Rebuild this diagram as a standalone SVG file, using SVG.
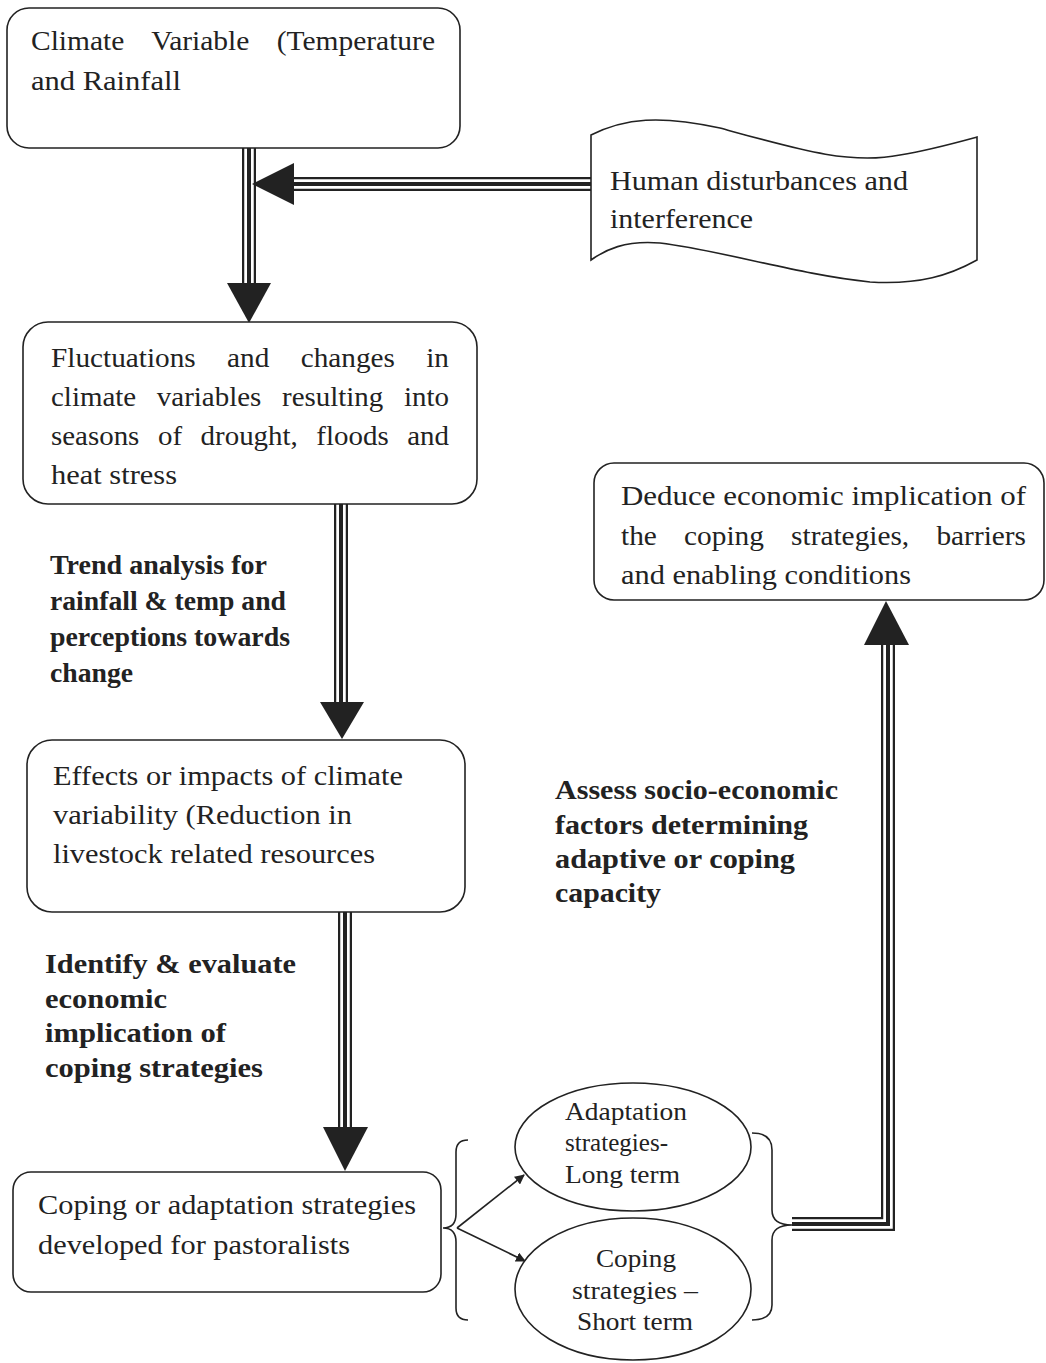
<svg xmlns="http://www.w3.org/2000/svg" xmlns:xlink="http://www.w3.org/1999/xlink" width="1046" height="1363" viewBox="0 0 1046 1363">
<style>
.box{fill:#fff;stroke:#222;stroke-width:1.6}
.t{font-family:"Liberation Serif","Times New Roman",serif;font-size:28px;fill:#222}
.e{font-family:"Liberation Serif","Times New Roman",serif;font-size:26px;fill:#222}
.b{font-family:"Liberation Serif","Times New Roman",serif;font-size:26.5px;font-weight:bold;fill:#222}
.o{fill:none;stroke:#222;stroke-width:14;stroke-linejoin:miter}
.g{fill:none;stroke:#fff;stroke-width:9.5;stroke-linejoin:miter}
.c{fill:none;stroke:#222;stroke-width:4;stroke-linejoin:miter}
.head{fill:#222}
.thin{fill:none;stroke:#222;stroke-width:1.6}
</style>
<defs>
<marker id="sm" viewBox="0 0 10 10" refX="9" refY="5" markerWidth="10" markerHeight="10" markerUnits="userSpaceOnUse" orient="auto"><path d="M0,0 L10,5 L0,10 z" fill="#222"/></marker>
<path id="p1" d="M249,148 V286"/>
<path id="p2" d="M591,184 H290"/>
<path id="p3" d="M341,504 V706"/>
<path id="p4" d="M345,912 V1130"/>
<path id="p5" d="M792,1224 H888 V642"/>
</defs>

<g id="connectors">
<use xlink:href="#p1" class="o"/><use xlink:href="#p1" class="g"/><use xlink:href="#p1" class="c"/>
<polygon class="head" points="227,283 271,283 249,323"/>
<use xlink:href="#p2" class="o"/><use xlink:href="#p2" class="g"/><use xlink:href="#p2" class="c"/>
<polygon class="head" points="294,163 294,205 252,184"/>
<use xlink:href="#p3" class="o"/><use xlink:href="#p3" class="g"/><use xlink:href="#p3" class="c"/>
<polygon class="head" points="320,702 364,702 342,739"/>
<use xlink:href="#p4" class="o"/><use xlink:href="#p4" class="g"/><use xlink:href="#p4" class="c"/>
<polygon class="head" points="323,1127 368,1127 345,1171"/>
<use xlink:href="#p5" class="o"/><use xlink:href="#p5" class="g"/><use xlink:href="#p5" class="c"/>
<polygon class="head" points="864,645 909,645 886,601"/>
<path class="thin" d="M457,1228 L524,1175" marker-end="url(#sm)"/>
<path class="thin" d="M457,1228 L525,1261" marker-end="url(#sm)"/>
<path class="thin" d="M468,1140 Q456,1140 456,1152 L456,1214 Q456,1228 443,1228 Q456,1228 456,1242 L456,1308 Q456,1320 468,1320"/>
<path class="thin" d="M752,1133 Q772,1133 772,1150 L772,1210 Q772,1225 792,1225 Q772,1225 772,1240 L772,1305 Q772,1320 752,1320"/>
</g>

<g id="climate-variable">
<rect class="box" x="7" y="8" width="453" height="140" rx="22"/>
<text class="t" x="31" y="50" word-spacing="19" textLength="404" lengthAdjust="spacingAndGlyphs">Climate Variable (Temperature</text>
<text class="t" x="31" y="90" textLength="150" lengthAdjust="spacingAndGlyphs">and Rainfall</text>
</g>

<g id="human-disturbances">
<path class="box" d="M591,135 C625,118 660,115 720,128 C800,150 850,165 900,155 C930,150 955,143 977,137 L977,260 C950,275 920,285 870,282 C800,275 720,250 660,243 C625,240 605,250 591,260 Z"/>
<text class="t" x="610" y="190" textLength="298" lengthAdjust="spacingAndGlyphs">Human disturbances and</text>
<text class="t" x="610" y="228" textLength="143" lengthAdjust="spacingAndGlyphs">interference</text>
</g>

<g id="fluctuations">
<rect class="box" x="23" y="322" width="454" height="182" rx="25"/>
<text class="t" x="51" y="367" word-spacing="23" textLength="398" lengthAdjust="spacingAndGlyphs">Fluctuations and changes in</text>
<text class="t" x="51" y="406" word-spacing="13" textLength="398" lengthAdjust="spacingAndGlyphs">climate variables resulting into</text>
<text class="t" x="51" y="445" word-spacing="11" textLength="398" lengthAdjust="spacingAndGlyphs">seasons of drought, floods and</text>
<text class="t" x="51" y="484" textLength="126" lengthAdjust="spacingAndGlyphs">heat stress</text>
</g>

<g id="trend-label">
<text class="b" x="50" y="574" textLength="217" lengthAdjust="spacingAndGlyphs">Trend analysis for</text>
<text class="b" x="50" y="610" textLength="236" lengthAdjust="spacingAndGlyphs">rainfall &amp; temp and</text>
<text class="b" x="50" y="646" textLength="240" lengthAdjust="spacingAndGlyphs">perceptions towards</text>
<text class="b" x="50" y="682" textLength="83" lengthAdjust="spacingAndGlyphs">change</text>
</g>

<g id="effects">
<rect class="box" x="27" y="740" width="438" height="172" rx="25"/>
<text class="t" x="53" y="785" textLength="350" lengthAdjust="spacingAndGlyphs">Effects or impacts of climate</text>
<text class="t" x="53" y="824" textLength="299" lengthAdjust="spacingAndGlyphs">variability (Reduction in</text>
<text class="t" x="53" y="863" textLength="322" lengthAdjust="spacingAndGlyphs">livestock related resources</text>
</g>

<g id="identify-label">
<text class="b" x="45" y="973" textLength="251" lengthAdjust="spacingAndGlyphs">Identify &amp; evaluate</text>
<text class="b" x="45" y="1008" textLength="122" lengthAdjust="spacingAndGlyphs">economic</text>
<text class="b" x="45" y="1042" textLength="181" lengthAdjust="spacingAndGlyphs">implication of</text>
<text class="b" x="45" y="1077" textLength="218" lengthAdjust="spacingAndGlyphs">coping strategies</text>
</g>

<g id="coping-adaptation">
<rect class="box" x="13" y="1172" width="428" height="120" rx="18"/>
<text class="t" x="38" y="1214" textLength="378" lengthAdjust="spacingAndGlyphs">Coping or adaptation strategies</text>
<text class="t" x="38" y="1254" textLength="312" lengthAdjust="spacingAndGlyphs">developed for pastoralists</text>
</g>

<g id="adaptation-long">
<ellipse class="box" cx="633" cy="1147" rx="118" ry="64"/>
<text class="e" x="565" y="1120" textLength="122" lengthAdjust="spacingAndGlyphs">Adaptation</text>
<text class="e" x="565" y="1151" textLength="103" lengthAdjust="spacingAndGlyphs">strategies-</text>
<text class="e" x="565" y="1183" textLength="115" lengthAdjust="spacingAndGlyphs">Long term</text>
</g>

<g id="coping-short">
<ellipse class="box" cx="633" cy="1289" rx="118" ry="71"/>
<text class="e" x="596" y="1267" textLength="80" lengthAdjust="spacingAndGlyphs">Coping</text>
<text class="e" x="572" y="1299" textLength="126" lengthAdjust="spacingAndGlyphs">strategies –</text>
<text class="e" x="577" y="1330" textLength="116" lengthAdjust="spacingAndGlyphs">Short term</text>
</g>

<g id="assess-label">
<text class="b" x="555" y="799" textLength="283" lengthAdjust="spacingAndGlyphs">Assess socio-economic</text>
<text class="b" x="555" y="834" textLength="253" lengthAdjust="spacingAndGlyphs">factors determining</text>
<text class="b" x="555" y="868" textLength="240" lengthAdjust="spacingAndGlyphs">adaptive or coping</text>
<text class="b" x="555" y="902" textLength="106" lengthAdjust="spacingAndGlyphs">capacity</text>
</g>

<g id="deduce">
<rect class="box" x="594" y="463" width="450" height="137" rx="20"/>
<text class="t" x="621" y="505" textLength="405" lengthAdjust="spacingAndGlyphs">Deduce economic implication of</text>
<text class="t" x="621" y="545" word-spacing="19" textLength="405" lengthAdjust="spacingAndGlyphs">the coping strategies, barriers</text>
<text class="t" x="621" y="584" textLength="290" lengthAdjust="spacingAndGlyphs">and enabling conditions</text>
</g>
</svg>
